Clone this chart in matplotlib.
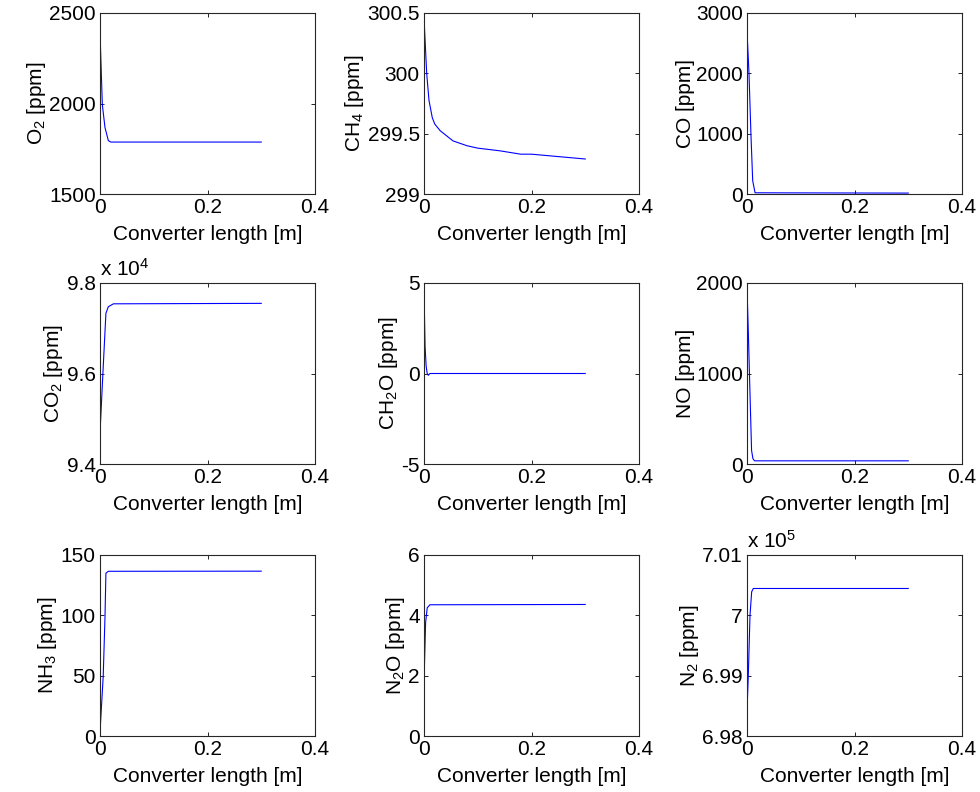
import matplotlib
matplotlib.use("Agg")
import matplotlib.pyplot as plt
from matplotlib.ticker import FuncFormatter

plt.rcParams['font.family'] = ['Liberation Sans', 'DejaVu Sans']
plt.rcParams['mathtext.fontset'] = 'custom'
plt.rcParams['mathtext.rm'] = 'Liberation Sans'
plt.rcParams['mathtext.it'] = 'Liberation Sans'
plt.rcParams['font.size'] = 15

# converter length [m] and concentrations [ppm]
x_o2 = [0, 0.0043, 0.0093, 0.0155, 0.02, 0.3]
o2 = [2396, 1994, 1867, 1795, 1787, 1787]

x_ch4 = [0, 0.005, 0.0093, 0.0154, 0.02, 0.03, 0.054, 0.08, 0.1, 0.141, 0.18, 0.2, 0.25, 0.3]
ch4 = [300.46, 300.0, 299.775, 299.633, 299.58, 299.525, 299.44, 299.40, 299.38, 299.358, 299.33, 299.33, 299.31, 299.29]

x_co = [0, 0.0037, 0.0074, 0.0106, 0.015, 0.3]
co = [2700, 2000, 970, 220, 20, 15]

x_co2 = [0, 0.006, 0.011, 0.0155, 0.025, 0.3]
co2 = [94685, 96150, 97330, 97476, 97540, 97550]

x_ch2o = [0, 0.001, 0.002, 0.004, 0.006, 0.008, 0.011, 0.3]
ch2o = [4.9, 3.0, 1.5, 0.4, 0.0, -0.1, 0.0, 0.0]

x_no = [0, 0.0025, 0.005, 0.0085, 0.011, 0.014, 0.3]
no = [1950, 1450, 900, 150, 60, 35, 35]

x_nh3 = [0, 0.006, 0.0093, 0.011, 0.0155, 0.3]
nh3 = [3.3, 49.7, 99, 134.9, 136.5, 136.6]

x_n2o = [0, 0.0005, 0.003, 0.006, 0.011, 0.3]
n2o = [1.12, 2.11, 3.76, 4.25, 4.35, 4.36]

x_n2 = [0, 0.0024, 0.0056, 0.0087, 0.0117, 0.3]
n2 = [698417, 699000, 700005, 700390, 700445, 700445]

panels = [
    (x_o2, o2, 'O$_2$ [ppm]', (1500, 2500), [1500, 2000, 2500], None),
    (x_ch4, ch4, 'CH$_4$ [ppm]', (299, 300.5), [299, 299.5, 300, 300.5], None),
    (x_co, co, 'CO [ppm]', (0, 3000), [0, 1000, 2000, 3000], None),
    (x_co2, co2, 'CO$_2$ [ppm]', (94000, 98000), [94000, 96000, 98000], 4),
    (x_ch2o, ch2o, 'CH$_2$O [ppm]', (-5, 5), [-5, 0, 5], None),
    (x_no, no, 'NO [ppm]', (0, 2000), [0, 1000, 2000], None),
    (x_nh3, nh3, 'NH$_3$ [ppm]', (0, 150), [0, 50, 100, 150], None),
    (x_n2o, n2o, 'N$_2$O [ppm]', (0, 6), [0, 2, 4, 6], None),
    (x_n2, n2, 'N$_2$ [ppm]', (698000, 701000), [698000, 699000, 700000, 701000], 5),
]

W, H = 980, 792
lefts = [100, 424, 747]
tops = [13, 283, 555]
aw, ah = 215, 181

fig = plt.figure(figsize=(9.8, 7.92), dpi=100)

for i, (xs, ys, label, ylim, yticks, exp) in enumerate(panels):
    r, c = divmod(i, 3)
    ax = fig.add_axes([lefts[c] / W, 1 - (tops[r] + ah) / H, aw / W, ah / H])
    ax.plot(xs, ys, color='blue', linewidth=0.8)
    ax.set_xlim(0, 0.4)
    ax.set_ylim(*ylim)
    ax.set_xticks([0, 0.2, 0.4])
    ax.set_xticklabels(['0', '0.2', '0.4'])
    ax.set_yticks(yticks)
    if exp:
        ax.yaxis.set_major_formatter(FuncFormatter(lambda v, p, e=exp: '%g' % round(v / 10 ** e, 4)))
        ax.text(0, 1.015, 'x 10$^{%d}$' % exp, transform=ax.transAxes, ha='left', va='bottom')
    else:
        ax.yaxis.set_major_formatter(FuncFormatter(lambda v, p: '%g' % v))
    ax.tick_params(direction='in', length=3, width=0.6, top=True, right=True, pad=3)
    for s in ax.spines.values():
        s.set_linewidth(0.8)
        s.set_color('#262626')
    ax.set_xlabel('Converter length [m]')
    ax.xaxis.set_label_coords(0.5, -31 / ah)
    ax.set_ylabel(label, labelpad=1)

fig.savefig('out.png', dpi=100)
